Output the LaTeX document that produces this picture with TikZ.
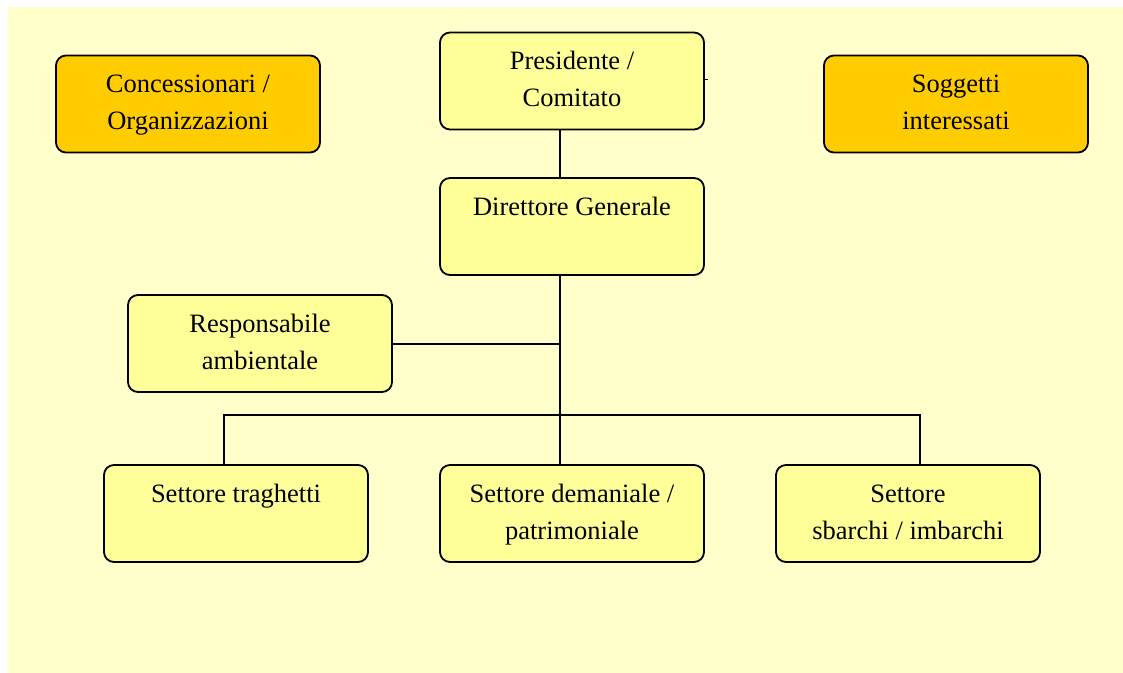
\documentclass[tikz,border=0pt]{standalone}
\usepackage{fontspec}
\setmainfont{Liberation Serif}
\definecolor{bg}{HTML}{FFFFCC}
\definecolor{boxy}{HTML}{FFFF99}
\definecolor{boxo}{HTML}{FFCC00}
\tikzset{
  orgbox/.style={draw=black, line width=1.8pt, rounded corners=10pt, fill=boxy,
    minimum width=264pt, minimum height=97pt, inner sep=0pt, align=center,
    font=\fontsize{26.5}{37}\selectfont},
  extbox/.style={orgbox, fill=boxo},
  conn/.style={line width=1.8pt, draw=black}
}
\newcommand{\tl}[2]{\strut #1\\\strut #2}
\begin{document}
\begin{tikzpicture}[x=1pt,y=-1pt]
\useasboundingbox (0,0) rectangle (1123,672);
\fill[bg] (8,7) rectangle (1135,685);
\node[orgbox] (pres) at (572,81) {\tl{Presidente /}{Comitato}};
\node[extbox] (conc) at (188,104) {\tl{Concessionari /}{Organizzazioni}};
\node[extbox] (sogg) at (956,104) {\tl{Soggetti}{interessati}};
\node[orgbox] (dir) at (572,226.5) {\tl{Direttore Generale}{}};
\node[orgbox] (resp) at (260,343.5) {\tl{Responsabile}{ambientale}};
\node[orgbox] (trag) at (236,513.5) {\tl{Settore traghetti}{}};
\node[orgbox] (dem) at (572,513.5) {\tl{Settore demaniale /}{patrimoniale}};
\node[orgbox] (sbar) at (908,513.5) {\tl{Settore}{sbarchi / imbarchi}};
\coordinate (split) at (560,415);
\coordinate (stub) at (708,79);
\coordinate (rj) at (560,344);
\draw[conn] (pres.south -| split) -- (dir.north -| split);
\draw[conn] (dir.south -| split) -- (dem.north -| split);
\draw[conn] (resp.east |- rj) -- (rj);
\draw[conn] (trag.north -| 224,0) -- (224,415) -- (920,415) -- (sbar.north -| 920,0);
\draw[line width=1pt] (pres.east |- stub) -- (stub);
\end{tikzpicture}
\end{document}
